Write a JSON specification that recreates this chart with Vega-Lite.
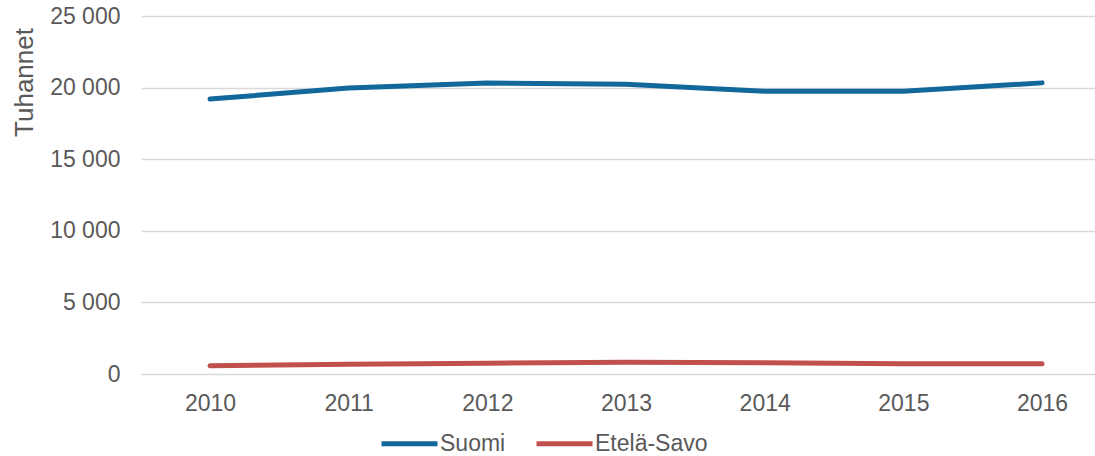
{
  "$schema": "https://vega.github.io/schema/vega-lite/v6.json",
  "width": 954,
  "height": 358,
  "autosize": "none",
  "padding": {"left": 141, "top": 16, "right": 0, "bottom": 82},
  "config": {
    "font": "Liberation Sans",
    "view": {"stroke": null}
  },
  "data": {
    "values": [
      {"year": 2010, "series": "Suomi", "value": 19200},
      {"year": 2011, "series": "Suomi", "value": 19970},
      {"year": 2012, "series": "Suomi", "value": 20320},
      {"year": 2013, "series": "Suomi", "value": 20230},
      {"year": 2014, "series": "Suomi", "value": 19750},
      {"year": 2015, "series": "Suomi", "value": 19740},
      {"year": 2016, "series": "Suomi", "value": 20330},
      {"year": 2010, "series": "Etelä-Savo", "value": 580},
      {"year": 2011, "series": "Etelä-Savo", "value": 680},
      {"year": 2012, "series": "Etelä-Savo", "value": 750},
      {"year": 2013, "series": "Etelä-Savo", "value": 820},
      {"year": 2014, "series": "Etelä-Savo", "value": 790},
      {"year": 2015, "series": "Etelä-Savo", "value": 720},
      {"year": 2016, "series": "Etelä-Savo", "value": 720}
    ]
  },
  "mark": {"type": "line", "strokeWidth": 5, "strokeCap": "round", "strokeJoin": "round"},
  "encoding": {
    "x": {
      "field": "year",
      "type": "quantitative",
      "scale": {"domain": [2009.5024, 2016.382], "nice": false, "zero": false},
      "axis": {
        "values": [2010, 2011, 2012, 2013, 2014, 2015, 2016],
        "format": "d",
        "title": null,
        "grid": false,
        "domain": false,
        "ticks": false,
        "labelFontSize": 23,
        "labelColor": "#595959",
        "labelPadding": 18,
        "labelFlush": false
      }
    },
    "y": {
      "field": "value",
      "type": "quantitative",
      "scale": {"domain": [0, 25000], "nice": false},
      "axis": {
        "values": [0, 5000, 10000, 15000, 20000, 25000],
        "labelExpr": "replace(format(datum.value, ','), ',', ' ')",
        "title": "Tuhannet",
        "titleFontSize": 26,
        "titleFontWeight": "normal",
        "titleColor": "#595959",
        "titleX": -117,
        "titleY": 66,
        "titleAngle": -90,
        "titleAlign": "center",
        "titleBaseline": "middle",
        "domain": false,
        "ticks": false,
        "gridColor": "#d9d9d9",
        "gridWidth": 1.5,
        "labelFontSize": 23,
        "labelColor": "#595959",
        "labelPadding": 21
      }
    },
    "color": {
      "field": "series",
      "type": "nominal",
      "scale": {"domain": ["Suomi", "Etelä-Savo"], "range": ["#12679b", "#c0504d"]},
      "legend": {
        "title": null,
        "orient": "none",
        "direction": "horizontal",
        "legendX": 238,
        "legendY": 397,
        "symbolType": "stroke",
        "symbolSize": 3136,
        "symbolStrokeWidth": 5,
        "labelFontSize": 23,
        "labelColor": "#595959",
        "labelOffset": 0,
        "columnPadding": 20
      }
    }
  }
}
